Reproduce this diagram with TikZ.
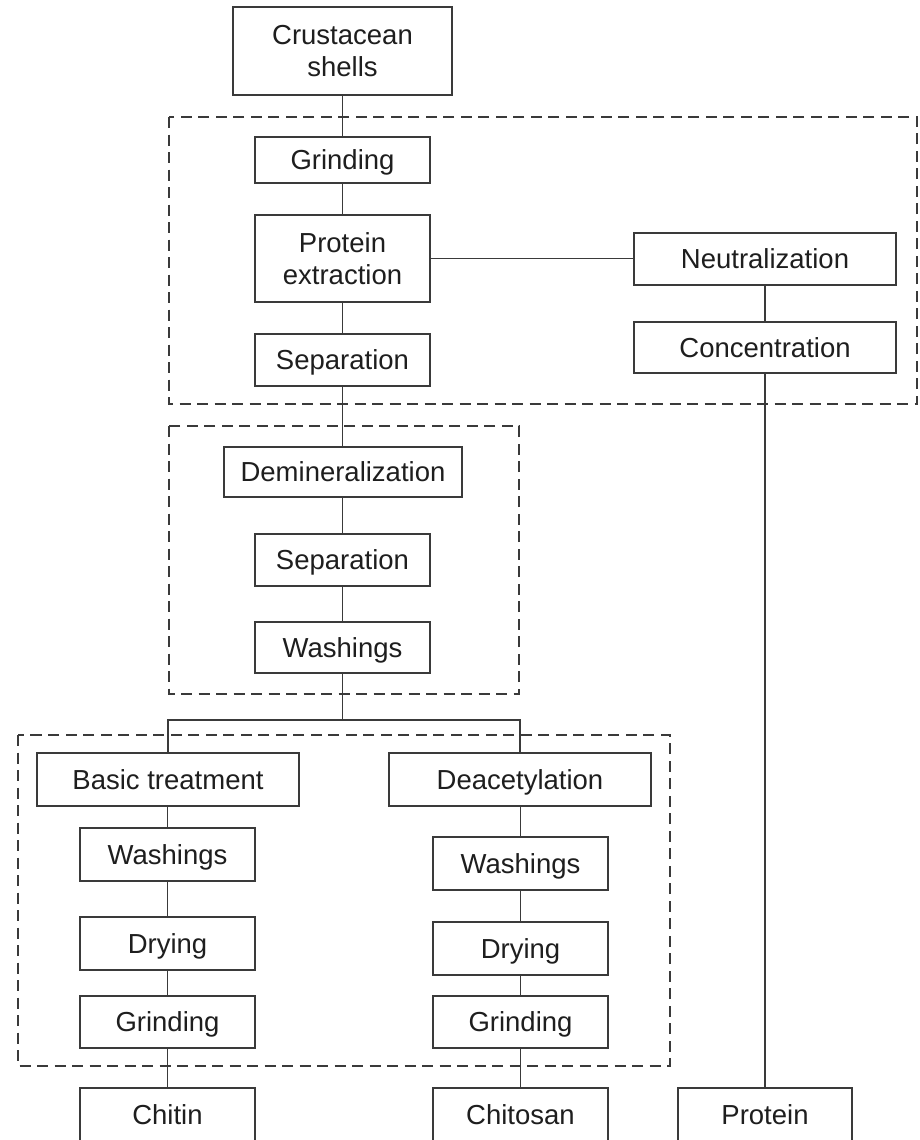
\documentclass[tikz,border=0pt]{standalone}
\usepackage{fontspec}
\setmainfont{Liberation Sans}
\begin{document}
\begin{tikzpicture}[x=1pt,y=-1pt,
  box/.style={draw=linec, line width=1.3pt, inner sep=0pt, align=center, text=txtc,
    font=\fontsize{27.5}{32.5}\selectfont},
  one/.style={box, text height=20pt, text depth=1pt},
  conn/.style={draw=linec, line width=1.4pt},
  group/.style={draw=linec, line width=1.3pt, dash pattern=on 11pt off 6.5pt}]
\definecolor{linec}{HTML}{3A3A3A}
\definecolor{txtc}{HTML}{1E1E1E}
\useasboundingbox (0,0) rectangle (919,1140);
\clip (0,0) rectangle (919,1140);
\fill[white] (0,0) rectangle (919,1140);
% dashed groups
\draw[group] (169,117) rectangle (917,404);
\draw[group] (169,426) rectangle (519,694);
\draw[group] (18,735) rectangle (670,1066);
% nodes
\node[box, minimum width=219pt, minimum height=88pt] (shells) at (342.5,51) {Crustacean\\shells};
\node[one, minimum width=175pt, minimum height=46pt] (grind1) at (342.5,160) {Grinding};
\node[box, minimum width=175pt, minimum height=87pt] (protext) at (342.5,258.5) {Protein\\extraction};
\node[one, minimum width=175pt, minimum height=52pt] (sep1) at (342.5,360) {Separation};
\node[one, minimum width=262pt, minimum height=52pt] (neutr) at (765,259) {Neutralization};
\node[one, minimum width=262pt, minimum height=51pt] (conc) at (765,347.5) {Concentration};
\node[one, minimum width=238pt, minimum height=50pt] (demin) at (343,472) {Demineralization};
\node[one, minimum width=175pt, minimum height=52pt] (sep2) at (342.5,560) {Separation};
\node[one, minimum width=175pt, minimum height=51pt] (wash1) at (342.5,647.5) {Washings};
\node[one, minimum width=262pt, minimum height=53pt] (basic) at (168,779.5) {Basic treatment};
\node[one, minimum width=175pt, minimum height=53pt] (wash2) at (167.5,854.5) {Washings};
\node[one, minimum width=175pt, minimum height=53pt] (dry1) at (167.5,943.5) {Drying};
\node[one, minimum width=175pt, minimum height=52pt] (grind2) at (167.5,1022) {Grinding};
\node[one, minimum width=175pt, minimum height=54pt] (chitin) at (167.5,1115) {Chitin};
\node[one, minimum width=262pt, minimum height=53pt] (deac) at (520,779.5) {Deacetylation};
\node[one, minimum width=175pt, minimum height=53pt] (wash3) at (520.5,863.5) {Washings};
\node[one, minimum width=175pt, minimum height=53pt] (dry2) at (520.5,948.5) {Drying};
\node[one, minimum width=175pt, minimum height=52pt] (grind3) at (520.5,1022) {Grinding};
\node[one, minimum width=175pt, minimum height=54pt] (chitosan) at (520.5,1115) {Chitosan};
\node[one, minimum width=174pt, minimum height=54pt] (protein) at (765,1115) {Protein};
% connectors
\coordinate (bl) at (168,720);
\coordinate (br) at (520,720);
\coordinate (bm) at (342.5,720);
\draw[conn] (shells) -- (grind1);
\draw[conn] (grind1) -- (protext);
\draw[conn] (protext) -- (sep1);
\draw[conn] (sep1.south) -- (sep1.south |- demin.north);
\draw[conn] (demin.south -| sep2.north) -- (sep2.north);
\draw[conn] (sep2) -- (wash1);
\draw[conn] (protext.east) -- (protext.east -| neutr.west);
\draw[conn] (neutr) -- (conc);
\draw[conn] (conc) -- (protein);
\draw[conn] (wash1.south) -- (bm);
\draw[conn] (basic.north) -- (bl) -- (br) -- (deac.north);
\draw[conn] (basic.south -| wash2.north) -- (wash2.north);
\draw[conn] (wash2) -- (dry1);
\draw[conn] (dry1) -- (grind2);
\draw[conn] (grind2) -- (chitin);
\draw[conn] (deac.south -| wash3.north) -- (wash3.north);
\draw[conn] (wash3) -- (dry2);
\draw[conn] (dry2) -- (grind3);
\draw[conn] (grind3) -- (chitosan);
\end{tikzpicture}
\end{document}
